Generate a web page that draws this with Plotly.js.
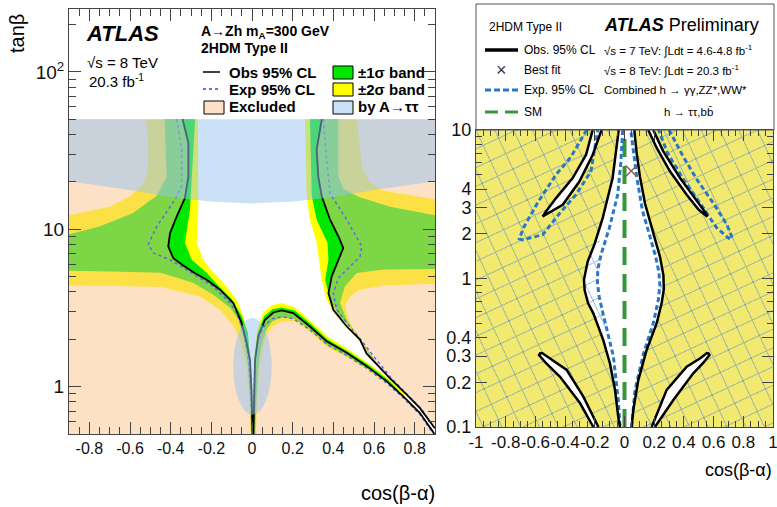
<!DOCTYPE html>
<html><head><meta charset="utf-8">
<script src="https://cdn.plot.ly/plotly-3.0.1.min.js"></script>
<style>html,body{margin:0;padding:0;background:#fff}#chart{width:777px;height:507px}</style>
</head><body><div id="chart"></div>
<script>
// ================= LEFT PANEL : A->Zh, mA = 300 GeV =================
const leftRangeX = [-0.9, 0.9];
const leftRangeY = [0.5, 50];
// observed 95% CL limit, three branches
const obsLX = [-0.341,-0.313,-0.313,-0.330,-0.370,-0.403,-0.412,-0.387,-0.340,-0.280,-0.223,-0.157,-0.092,-0.051,-0.026,-0.010,-0.002,0.003];
const obsLY = [50,35.3,21.6,15.8,12.1,9.46,7.78,6.56,5.9,5.25,4.78,4.13,3.40,2.54,1.89,1.48,0.91,0.5];
const obsLowX = [0.007,0.010,0.015,0.031,0.064,0.105,0.146,0.203,0.285,0.367,0.466,0.564,0.663,0.744,0.826,0.884,0.897];
const obsLowY = [0.5,0.9,1.48,2.09,2.66,2.96,3.05,2.93,2.41,1.94,1.64,1.35,1.08,0.868,0.68,0.53,0.5];
const obsOutX = [0.343,0.318,0.326,0.343,0.384,0.425,0.449,0.425,0.392,0.376,0.400,0.466,0.531,0.564,0.613,0.679,0.761,0.826,0.892,0.9];
const obsOutY = [50,32,21.6,16.2,11.5,9.0,7.6,6.4,5.02,3.93,3.08,2.41,1.99,1.62,1.38,1.13,0.89,0.73,0.56,0.545];
// expected 95% CL limit
const expLX = [-0.370,-0.346,-0.346,-0.379,-0.469,-0.510,-0.485,-0.403,-0.321,-0.190,-0.108,-0.075,-0.045,-0.020,-0.006,0.0];
const expLY = [50,32,18.8,15.4,10.4,8.0,7.07,6.4,5.53,4.33,3.4,2.95,2.3,1.6,0.95,0.5];
const expLowX = [0.004,0.008,0.014,0.030,0.060,0.100,0.146,0.203,0.285,0.367,0.466,0.564,0.663,0.744,0.826,0.884];
const expLowY = [0.5,0.9,1.4,1.95,2.45,2.7,2.78,2.7,2.3,1.86,1.58,1.31,1.05,0.85,0.665,0.52];
const expOutX = [0.351,0.367,0.384,0.466,0.540,0.531,0.466,0.425,0.400,0.417,0.480,0.540,0.600,0.680,0.760,0.830,0.895];
const expOutY = [50,27.6,16.9,11.5,7.78,6.7,5.53,4.9,3.93,3.08,2.41,1.95,1.55,1.15,0.9,0.73,0.55];
// +-2 sigma band regions
const band2LX = [-0.52,-0.51,-0.51,-0.53,-0.60,-0.70,-0.90,-0.90,-0.75,-0.45,-0.256,-0.157,-0.09,-0.06,-0.03,-0.012,-0.008,0.004,0.002,-0.006,-0.03,-0.043,-0.075,-0.125,-0.19,-0.24,-0.272,-0.264,-0.266];
const band2LY = [50,35,25,19.7,16.2,13.9,12.3,4.4,4.38,4.3,3.74,3.08,2.41,2.0,1.4,0.8,0.5,0.5,0.9,1.5,2.4,2.8,3.57,4.33,5.3,6.4,8.2,13.3,50];
const band2RX = [0.261,0.269,0.285,0.318,0.334,0.343,0.367,0.416,0.482,0.548,0.58,0.63,0.67,0.65,0.597,0.548,0.482,0.457,0.482,0.531,0.65,0.9,0.9,0.65,0.58,0.54,0.53,0.515];
const band2RY = [50,16.2,11.5,8.2,5.8,4.78,3.57,2.8,2.3,1.8,1.56,1.3,1.15,1.22,1.48,1.89,2.54,3.24,3.74,4.13,4.4,4.5,15.5,17.5,20,25,35,50];
const band2LowX = [0.0,0.006,0.012,0.025,0.055,0.1,0.146,0.21,0.29,0.37,0.47,0.57,0.67,0.75,0.75,0.67,0.57,0.47,0.37,0.29,0.21,0.146,0.1,0.07,0.05,0.035,0.025,0.02];
const band2LowY = [0.5,1.0,1.6,2.3,2.95,3.3,3.4,3.2,2.6,2.08,1.74,1.42,1.13,0.9,0.83,1.03,1.27,1.52,1.78,2.2,2.6,2.6,2.4,2.1,1.7,1.2,0.8,0.5];
// +-1 sigma band regions
const band1LX = [-0.43,-0.42,-0.47,-0.50,-0.585,-0.75,-0.90,-0.90,-0.75,-0.45,-0.29,-0.19,-0.108,-0.066,-0.04,-0.02,-0.008,-0.004,0.0,-0.004,-0.02,-0.05,-0.10,-0.16,-0.223,-0.297,-0.33,-0.305,-0.28];
const band1LY = [50,21.6,16.2,15.3,12.7,10.4,9.3,5.45,5.42,5.3,4.57,3.84,3.17,2.66,2.0,1.4,0.8,0.5,0.5,1.2,2.2,2.8,3.6,4.3,5.3,6.4,8.2,13.3,50];
const band1RX = [0.285,0.294,0.318,0.371,0.376,0.36,0.384,0.43,0.515,0.58,0.62,0.60,0.531,0.466,0.433,0.457,0.515,0.65,0.9,0.9,0.68,0.53,0.45,0.425,0.425];
const band1RY = [50,16.2,11.5,8.2,6.4,4.78,3.57,2.8,2.19,1.58,1.38,1.5,1.99,2.66,3.4,4.33,5.27,5.55,5.6,12.3,13.9,16,18,21.6,50];
const band1LowX = [0.002,0.008,0.014,0.028,0.06,0.1,0.146,0.21,0.29,0.37,0.47,0.57,0.67,0.72,0.72,0.67,0.57,0.47,0.37,0.29,0.21,0.146,0.1,0.07,0.045,0.03,0.022,0.016];
const band1LowY = [0.5,1.0,1.55,2.2,2.8,3.1,3.18,3.05,2.5,2.0,1.68,1.38,1.1,0.95,0.9,1.05,1.3,1.56,1.84,2.28,2.7,2.75,2.6,2.3,1.8,1.3,0.85,0.5];
// region excluded by A->tautau
const tauX = [-0.9,-0.6,-0.4,-0.2,0,0.2,0.4,0.6,0.9];
const tauLowY = [20.2,17.8,16.0,15.0,14.6,15.0,16.0,17.8,20.2];
const tauTopY = 50;
const tauEllX = [-0.092, 0.097];
const tauEllY = [0.664, 2.73];

// ================= RIGHT PANEL : coupling fits =================
const rightRangeX = [-1, 1];
const rightRangeY = [0.1, 10];
const tdLeftX = [-0.039,-0.060,-0.080,-0.147,-0.203,-0.248,-0.273,-0.268,-0.245,-0.210,-0.143,-0.098,-0.064,-0.042,-0.030];
const tdLeftY = [10,7.0,4.75,2.55,1.69,1.30,0.98,0.83,0.68,0.583,0.385,0.268,0.178,0.117,0.1];
const tdRightX = [0.048,0.059,0.093,0.149,0.217,0.250,0.265,0.262,0.239,0.194,0.138,0.104,0.082,0.066];
const tdRightY = [0.1,0.13,0.207,0.33,0.50,0.68,0.85,1.05,1.40,2.01,3.2,4.85,6.96,10];
const tdExpLeftX = [-0.012,-0.025,-0.046,-0.102,-0.158,-0.18,-0.182,-0.17,-0.145,-0.12,-0.075,-0.042,-0.03];
const tdExpLeftY = [10,6.0,3.66,2.19,1.45,1.15,0.93,0.75,0.58,0.45,0.30,0.152,0.1];
const tdExpRightX = [0.048,0.071,0.127,0.194,0.228,0.238,0.232,0.21,0.16,0.12,0.082,0.06,0.042];
const tdExpRightY = [0.1,0.178,0.31,0.50,0.72,0.9,1.1,1.4,2.1,2.89,4.85,7.0,10];
const hatchLX = [-0.17,-0.203,-0.248,-0.273,-0.268,-0.245,-0.21,-0.15,-0.128,-0.145,-0.17,-0.182,-0.18,-0.16];
const hatchLY = [2.2,1.69,1.30,0.98,0.83,0.68,0.583,0.40,0.5,0.58,0.75,0.93,1.15,1.4];
const hatchRX = [0.16,0.194,0.239,0.262,0.265,0.25,0.217,0.228,0.238,0.232,0.21];
const hatchRY = [2.1,2.01,1.40,1.05,0.85,0.68,0.5,0.72,0.9,1.1,1.4];
const petalULX = [-0.214,-0.259,-0.349,-0.461,-0.530,-0.551,-0.540,-0.480,-0.416,-0.304,-0.214,-0.155];
const petalULY = [10,6.8,4.75,3.48,2.82,2.62,2.66,2.9,3.14,4.5,6.8,10];
const petalURX = [0.194,0.261,0.374,0.508,0.545,0.558,0.548,0.50,0.419,0.306,0.217,0.16];
const petalURY = [10,7.18,4.75,3.14,2.78,2.62,2.66,2.9,3.66,5.27,7.57,10];
const petalLLX = [-0.176,-0.277,-0.389,-0.50,-0.555,-0.569,-0.575,-0.53,-0.434,-0.30,-0.21];
const petalLLY = [0.1,0.16,0.242,0.29,0.315,0.313,0.305,0.27,0.218,0.145,0.1];
const petalLRX = [0.183,0.284,0.419,0.51,0.555,0.565,0.572,0.53,0.463,0.329,0.205];
const petalLRY = [0.1,0.178,0.255,0.29,0.315,0.313,0.305,0.27,0.23,0.152,0.1];
const expULX = [-0.255,-0.36,-0.461,-0.58,-0.68,-0.708,-0.69,-0.551,-0.43,-0.327,-0.226,-0.18];
const expULY = [10,6.6,5.0,3.3,2.2,1.85,1.82,1.97,2.8,3.67,5.27,10];
const expURX = [0.30,0.40,0.49,0.60,0.69,0.725,0.71,0.62,0.52,0.40,0.29,0.23];
const expURY = [10,6.5,4.6,3.2,2.3,1.88,1.84,2.2,3.1,4.6,7.0,10];
const bestX = [0.045], bestY = [5.3];
const smX = [0, 0], smY = [0.1, 10];

// ================= styles =================
const FONT = 'Liberation Sans, Arial, Helvetica, sans-serif';
const YEL = 'rgb(255,255,0)', GRN = 'rgb(0,232,0)';
const PEACH = 'rgba(250,195,140,0.5)', BLUE = 'rgba(150,195,240,0.5)';
const RYEL = 'rgb(242,234,112)', HATCH = 'rgb(95,140,200)';
const EXPBLUE = 'rgb(40,120,200)';
const PAT = bg => ({shape: 'x', bgcolor: bg, fgcolor: HATCH, fgopacity: 0.9, size: 17, solidity: 0.1});

function poly(x, y, color, ax, extra) {
  return Object.assign({x, y, xaxis: ax[0], yaxis: ax[1], type: 'scatter', mode: 'lines', fill: 'toself',
    fillcolor: color, line: {width: 0}, hoverinfo: 'skip'}, extra || {});
}
function line(x, y, color, width, dash, ax) {
  return {x, y, xaxis: ax[0], yaxis: ax[1], type: 'scatter', mode: 'lines',
    line: {color, width, dash: dash || 'solid'}, hoverinfo: 'skip'};
}
const L = ['x', 'y'], R = ['x2', 'y2'];
const X0 = leftRangeX[0], X1 = leftRangeX[1], Y0 = leftRangeY[0], Y1 = leftRangeY[1];

const traces = [
  // bands
  poly(band2LX, band2LY, YEL, L), poly(band2RX, band2RY, YEL, L), poly(band2LowX, band2LowY, YEL, L),
  poly(band1LX, band1LY, GRN, L), poly(band1RX, band1RY, GRN, L), poly(band1LowX, band1LowY, GRN, L),
  // excluded (translucent peach)
  poly([X0].concat(obsLX, [X0]), [Y1].concat(obsLY, [Y0]), PEACH, L),
  poly(obsLowX, obsLowY, PEACH, L),
  poly(obsOutX.concat([X1]), obsOutY.concat([Y1]), PEACH, L),
  // limit lines
  line(expLX, expLY, 'rgb(100,100,235)', 1.5, 'dot', L),
  line(expLowX, expLowY, 'rgb(100,100,235)', 1.5, 'dot', L),
  line(expOutX, expOutY, 'rgb(100,100,235)', 1.5, 'dot', L),
  line(obsLX, obsLY, '#000', 1.8, 'solid', L),
  line(obsLowX, obsLowY, '#000', 1.8, 'solid', L),
  line(obsOutX, obsOutY, '#000', 1.8, 'solid', L),
  // A->tautau
  poly(tauX.concat([X1, X0]), tauLowY.concat([tauTopY, tauTopY]), BLUE, L),

  // ----- right panel -----
  poly([rightRangeX[0], rightRangeX[1], rightRangeX[1], rightRangeX[0]],
       [rightRangeY[0], rightRangeY[0], rightRangeY[1], rightRangeY[1]], RYEL, R, {fillpattern: PAT(RYEL)}),
  poly(tdLeftX.concat(tdRightX), tdLeftY.concat(tdRightY), '#fff', R),
  poly(petalULX, petalULY, '#fff', R), poly(petalURX, petalURY, '#fff', R),
  poly(petalLLX, petalLLY, '#fff', R), poly(petalLRX, petalLRY, '#fff', R),
  poly(hatchLX, hatchLY, '#fff', R, {fillpattern: PAT('#fff')}),
  poly(hatchRX, hatchRY, '#fff', R, {fillpattern: PAT('#fff')}),
  line(smX, smY, 'rgb(55,150,60)', 4, '18px,9px', R),
  line(tdExpLeftX, tdExpLeftY, EXPBLUE, 3, '5px,3px', R),
  line(tdExpRightX, tdExpRightY, EXPBLUE, 3, '5px,3px', R),
  line(expULX, expULY, EXPBLUE, 3, '5px,3px', R),
  line(expURX, expURY, EXPBLUE, 3, '5px,3px', R),
  line(tdLeftX, tdLeftY, '#000', 2.5, 'solid', R),
  line(tdRightX, tdRightY, '#000', 2.5, 'solid', R),
  line(petalULX, petalULY, '#000', 2.5, 'solid', R),
  line(petalURX, petalURY, '#000', 2.5, 'solid', R),
  line(petalLLX, petalLLY, '#000', 2.5, 'solid', R),
  line(petalLRX, petalLRY, '#000', 2.5, 'solid', R),
  {x: bestX, y: bestY, xaxis: 'x2', yaxis: 'y2', type: 'scatter', mode: 'markers',
   marker: {symbol: 'x-thin-open', size: 11, line: {color: '#333', width: 1.3}}, hoverinfo: 'skip'}
];

// ---------- layout helpers (paper pixel -> fraction) ----------
const W = 777, H = 507;
const fx = p => p / W, fy = p => 1 - p / H;
function txt(text, px, py, size, opts) {
  return Object.assign({text, x: fx(px), y: fy(py), xref: 'paper', yref: 'paper', showarrow: false,
    xanchor: 'left', yanchor: 'middle', font: {family: FONT, size, color: '#000'}}, opts || {});
}
function rect(x0, y0, x1, y1, fill) {
  return {type: 'rect', xref: 'paper', yref: 'paper', x0: fx(x0), x1: fx(x1), y0: fy(y1), y1: fy(y0),
    fillcolor: fill, line: {color: '#000', width: 1}};
}
function seg(x0, x1, y, color, width, dash) {
  return {type: 'line', xref: 'paper', yref: 'paper', x0: fx(x0), x1: fx(x1), y0: fy(y), y1: fy(y),
    line: {color, width, dash: dash || 'solid'}};
}

const tickCol = '#444';
const common = {showgrid: false, zeroline: false, showline: true, linecolor: tickCol, linewidth: 1,
  ticks: 'inside', tickcolor: tickCol, tickwidth: 1, mirror: 'allticks', tickangle: 0,
  ticklabeloverflow: 'allow'};

const leftYMinor = [0.6,0.7,0.8,0.9,2,3,4,5,6,7,8,9,20,30,40,50,60,70,80,90,200];
const rightYMinor = [0.5,0.6,0.7,0.8,0.9,5,6,7,8,9];
const leftXTicks = [-0.8,-0.6,-0.4,-0.2,0,0.2,0.4,0.6,0.8];
const leftXText = ['-0.8','-0.6','-0.4','-0.2','0','0.2','0.4','0.6','0.8'];
const rightXTicks = [-1,-0.8,-0.6,-0.4,-0.2,0,0.2,0.4,0.6,0.8,1];
const rightXText = ['-1','-0.8','-0.6','-0.4','-0.2','0','0.2','0.4','0.6','0.8','1'];
const rightYTicks = [0.1,0.2,0.3,0.4,1,2,3,4,10];

const layout = {
  width: W, height: H, margin: {l: 0, r: 0, t: 0, b: 0}, showlegend: false,
  paper_bgcolor: '#fff', plot_bgcolor: '#fff', font: {family: FONT, color: '#000'},
  xaxis: Object.assign({}, common, {domain: [fx(69), fx(435)], range: leftRangeX, anchor: 'y',
    tickmode: 'array', tickvals: leftXTicks, ticktext: leftXText, ticklen: 12,
    tickfont: {family: FONT, size: 16, color: '#111'},
    minor: {ticks: 'inside', ticklen: 7, tickcolor: tickCol, dtick: 0.05, tick0: 0, showgrid: false}}),
  yaxis: Object.assign({}, common, {domain: [fy(434), fy(9)], type: 'log', range: [Math.log10(0.5), 2.4], anchor: 'x',
    tickmode: 'array', tickvals: [1, 10, 100], ticktext: ['1', '10', '10<sup>2</sup>'], ticklen: 12,
    tickfont: {family: FONT, size: 19, color: '#111'},
    minor: {ticks: 'inside', ticklen: 7, tickcolor: tickCol, tickmode: 'array', tickvals: leftYMinor, showgrid: false}}),
  xaxis2: Object.assign({}, common, {domain: [fx(476), fx(773)], range: rightRangeX, anchor: 'y2',
    tickmode: 'array', tickvals: rightXTicks, ticktext: rightXText, ticklen: 11,
    tickfont: {family: FONT, size: 17, color: '#111'},
    minor: {ticks: 'inside', ticklen: 6, tickcolor: tickCol, dtick: 0.05, tick0: 0, showgrid: false}}),
  yaxis2: Object.assign({}, common, {domain: [fy(427), fy(130)], type: 'log', range: [-1, 1], anchor: 'x2',
    tickmode: 'array', tickvals: rightYTicks, ticktext: rightYTicks.map(String), ticklen: 11,
    tickfont: {family: FONT, size: 18, color: '#111'},
    minor: {ticks: 'inside', ticklen: 6, tickcolor: tickCol, tickmode: 'array', tickvals: rightYMinor, showgrid: false}}),
  shapes: [
    {type: 'circle', xref: 'x', yref: 'y', x0: tauEllX[0], x1: tauEllX[1], y0: tauEllY[0], y1: tauEllY[1],
     fillcolor: BLUE, line: {width: 0}, layer: 'above'},
    // left legend
    seg(203, 220, 72, '#000', 1.5),
    seg(203, 220, 89, 'rgb(60,60,240)', 1.5, 'dot'),
    rect(204, 101, 224, 114, 'rgb(253,225,198)'),
    rect(333, 66, 353, 79, GRN),
    rect(333, 83, 353, 96, YEL),
    rect(333, 101, 353, 114, 'rgb(202,225,247)'),
    // right legend box
    {type: 'rect', xref: 'paper', yref: 'paper', x0: fx(476), x1: fx(774), y0: fy(130), y1: fy(4),
     fillcolor: 'rgba(0,0,0,0)', line: {color: '#555', width: 1}},
    seg(485, 518, 50, '#000', 3.5),
    seg(485, 518, 90, EXPBLUE, 3, '6px,3px'),
    seg(485, 518, 112, 'rgb(55,150,60)', 3, '13px,7px')
  ],
  annotations: [
    txt('<b><i>ATLAS</i></b>', 84, 33, 22),
    txt('√s = 8 TeV', 85, 63, 15),
    txt('20.3 fb<sup>-1</sup>', 87, 80, 15),
    txt('<b>A→Zh m<sub>A</sub>=300 GeV</b>', 199, 32, 14),
    txt('<b>2HDM Type II</b>', 199, 48, 14),
    txt('<b>Obs 95% CL</b>', 227, 72, 15),
    txt('<b>Exp 95% CL</b>', 227, 89, 15),
    txt('<b>Excluded</b>', 227, 107, 15),
    txt('<b>±1σ band</b>', 356, 72, 15),
    txt('<b>±2σ band</b>', 356, 89, 15),
    txt('<b>by A→ττ</b>', 356, 107, 15),
    txt('tanβ', 17, 34, 20, {textangle: -90, xanchor: 'center', yanchor: 'middle'}),
    txt('cos(β-α)', 437, 493, 20, {xanchor: 'right'}),
    txt('2HDM Type II', 487, 27, 12),
    txt('<b><i>ATLAS</i></b> Preliminary', 602, 25, 18),
    txt('Obs. 95% CL', 522, 50, 12),
    txt('×', 501, 70, 18, {xanchor: 'center', font: {family: FONT, size: 18, color: '#333'}}),
    txt('Best fit', 522, 70, 12),
    txt('Exp. 95% CL', 522, 90, 12),
    txt('SM', 522, 112, 12),
    txt('√s = 7 TeV: ∫Ldt = 4.6-4.8 fb<sup>-1</sup>', 602, 50, 11.5),
    txt('√s = 8 TeV: ∫Ldt = 20.3 fb<sup>-1</sup>', 602, 70, 11.5),
    txt('Combined h → γγ,ZZ*,WW*', 602, 90, 11.5),
    txt('h → ττ,bb̄', 662, 112, 11.5),
    txt('cos(β-α)', 774, 470, 18, {xanchor: 'right'})
  ]
};

Plotly.newPlot('chart', traces, layout, {staticPlot: true}).then(() => {
  document.querySelectorAll('#chart pattern').forEach(p => p.setAttribute('patternTransform', 'rotate(20)'));
});
</script>
</body></html>
